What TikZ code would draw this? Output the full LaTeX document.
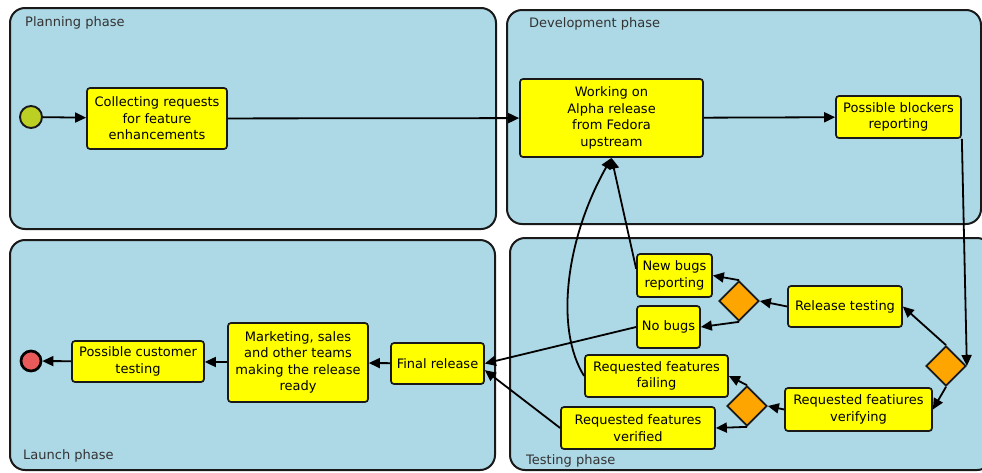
\documentclass[tikz,border=0pt]{standalone}
\usepackage{fontspec}
\setmainfont{DejaVu Sans}
\usetikzlibrary{arrows.meta,shapes.geometric}

\definecolor{lanefill}{HTML}{ADD8E6}
\definecolor{taskfill}{HTML}{FFFF00}
\definecolor{gatefill}{HTML}{FFA500}
\definecolor{startfill}{RGB}{188,208,36}
\definecolor{endfill}{RGB}{232,90,90}
\definecolor{lanetext}{HTML}{333333}

\tikzset{
  lane/.style={draw=black!90, line width=2pt, fill=lanefill, rounded corners=15pt},
  lanelabel/.style={anchor=west, text=lanetext, inner sep=0pt, font=\fontsize{13}{15}\selectfont},
  task/.style={draw=black!90, line width=1.7pt, fill=taskfill, rounded corners=3pt,
    inner sep=0pt, align=center, font=\fontsize{13}{16.5}\selectfont},
  gate/.style={draw=black!90, line width=1.7pt, fill=gatefill, diamond, aspect=1,
    inner sep=0pt, minimum width=40pt, minimum height=40pt},
  startev/.style={circle, draw=black!90, line width=1.9pt, fill=startfill, inner sep=0pt, minimum size=22pt},
  endev/.style={circle, draw=black, line width=2.7pt, fill=endfill, inner sep=0pt, minimum size=20pt},
  flow/.style={line width=1.8pt, -{Triangle[length=11pt,width=10pt]}},
}

\begin{document}
\begin{tikzpicture}[x=1pt, y=-1pt]
  \useasboundingbox (0,0) rectangle (982,472);

  % swimlanes
  \draw[lane] (10,8) rectangle (496,229);
  \draw[lane] (507,10) rectangle (981,224);
  \draw[lane] (10,240) rectangle (495,470);
  \draw[lane] (510,238) rectangle (992,470);

  \node[lanelabel] (lplan) at (25,23) {Planning phase};
  \node[lanelabel] (ldev)  at (529,24) {Development phase};
  \node[lanelabel] (llaunch) at (23,456) {Launch phase};
  \node[lanelabel] (ltest) at (526,461) {Testing phase};

  % events
  \node[startev] (start) at (31,117) {};
  \node[endev]   (stop)  at (31,361) {};

  % tasks
  \node[task, minimum width=140pt, minimum height=61pt] (collect) at (157,118.5)
    {Collecting requests\\for feature\\enhancements};
  \node[task, minimum width=183pt, minimum height=78pt] (work) at (611.5,118)
    {Working on\\Alpha release\\from Fedora\\upstream};
  \node[task, minimum width=125pt, minimum height=42pt] (block) at (898.5,117)
    {Possible blockers\\reporting};
  \node[task, minimum width=132pt, minimum height=41pt] (cust) at (138,361.5)
    {Possible customer\\testing};
  \node[task, minimum width=140pt, minimum height=79pt] (market) at (298,362.5)
    {Marketing, sales\\and other teams\\making the release\\ready};
  \node[task, minimum width=93pt, minimum height=41pt] (final) at (437.5,363.5)
    {Final release};
  \node[task, minimum width=75pt, minimum height=43pt] (newbugs) at (674.5,275.5)
    {New bugs\\reporting};
  \node[task, minimum width=63pt, minimum height=42pt] (nobugs) at (668.5,327)
    {No bugs};
  \node[task, minimum width=114pt, minimum height=41pt] (reltest) at (845,306.5)
    {Release testing};
  \node[task, minimum width=143pt, minimum height=42pt] (failing) at (656.5,376)
    {Requested features\\failing};
  \node[task, minimum width=154pt, minimum height=42pt] (verified) at (638,428)
    {Requested features\\verified};
  \node[task, minimum width=147pt, minimum height=43pt] (verifying) at (858.5,409.5)
    {Requested featiures\\verifying};

  % gateways
  \node[gate] (g1) at (739,301) {};
  \node[gate] (g2) at (946,366) {};
  \node[gate] (g3) at (747,406) {};

  % flows
  \draw[flow] (start) -- (collect);
  \draw[flow] (collect) -- (work);
  \draw[flow] (work) -- (block);
  \draw[flow] (block.south east) -- (g2.east);
  \draw[flow] (g2.north) -- (reltest.east);
  \draw[flow] (g2.south) -- (verifying.east);
  \draw[flow] (reltest.west) -- (g1.east);
  \draw[flow] (g1.north) -- (newbugs.east);
  \draw[flow] (g1.south) -- (nobugs.east);
  \draw[flow] (newbugs.170) -- (work.south);
  \draw[flow] (failing.west) .. controls (555,330) and (565,240) .. (work.south);
  \draw[flow] (nobugs.west) -- (final.east);
  \draw[flow] (verified.west) -- (final.-8);
  \draw[flow] (verifying.west) -- (g3.east);
  \draw[flow] (g3.north) -- (failing.east);
  \draw[flow] (g3.south) -- (verified.east);
  \draw[flow] (final) -- (market);
  \draw[flow] (market) -- (cust);
  \draw[flow] (cust) -- (stop);
\end{tikzpicture}
\end{document}
